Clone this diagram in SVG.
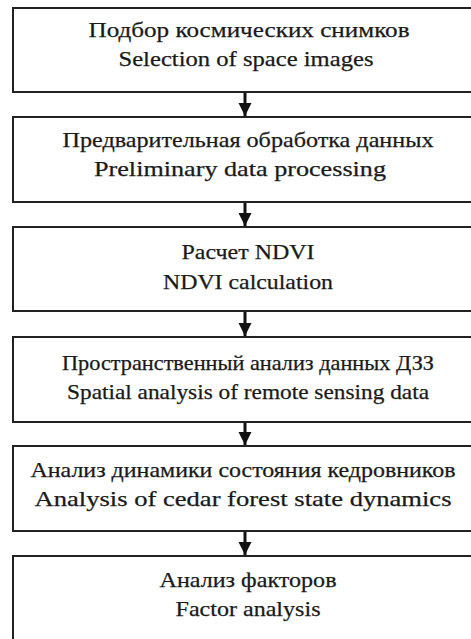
<svg xmlns="http://www.w3.org/2000/svg" width="471" height="639" viewBox="0 0 471 639">
<style>
.box{fill:#fff;stroke:#222;stroke-width:2}
.t{font-family:'Liberation Serif','Times New Roman',serif;font-size:21px;fill:#1a1a1a;stroke:#1a1a1a;stroke-width:0.25;text-anchor:middle}
.c{stroke:#111;stroke-width:3;fill:none}
</style>
<defs>
<marker id="ah" viewBox="0 0 10 10" refX="10" refY="5" markerWidth="4.5" markerHeight="4.5" markerUnits="strokeWidth" orient="auto">
<path d="M0,0 L10,5 L0,10 Z" fill="#111"/>
</marker>
</defs>
<rect width="471" height="639" fill="#fff"/>
<g id="connectors">
<line class="c" x1="245" y1="93" x2="245" y2="116" marker-end="url(#ah)"/>
<line class="c" x1="245" y1="203" x2="245" y2="226" marker-end="url(#ah)"/>
<line class="c" x1="245" y1="312" x2="245" y2="336" marker-end="url(#ah)"/>
<line class="c" x1="245" y1="422" x2="245" y2="445" marker-end="url(#ah)"/>
<line class="c" x1="245" y1="532" x2="245" y2="555" marker-end="url(#ah)"/>
</g>
<g id="n1">
<rect class="box" x="13" y="8" width="476" height="84"/>
<text class="t" x="249" y="37" textLength="321" lengthAdjust="spacingAndGlyphs">Подбор космических снимков</text>
<text class="t" x="246" y="66" textLength="255" lengthAdjust="spacingAndGlyphs">Selection of space images</text>
</g>
<g id="n2">
<rect class="box" x="13" y="117" width="476" height="85"/>
<text class="t" x="248" y="147" textLength="371" lengthAdjust="spacingAndGlyphs">Предварительная обработка данных</text>
<text class="t" x="240" y="176" textLength="292" lengthAdjust="spacingAndGlyphs">Preliminary data processing</text>
</g>
<g id="n3">
<rect class="box" x="13" y="227" width="476" height="84"/>
<text class="t" x="248" y="259" textLength="133" lengthAdjust="spacingAndGlyphs">Расчет NDVI</text>
<text class="t" x="248" y="289" textLength="170" lengthAdjust="spacingAndGlyphs">NDVI calculation</text>
</g>
<g id="n4">
<rect class="box" x="13" y="337" width="476" height="85"/>
<text class="t" x="248" y="370" textLength="372" lengthAdjust="spacingAndGlyphs">Пространственный анализ данных ДЗЗ</text>
<text class="t" x="248" y="399" textLength="362" lengthAdjust="spacingAndGlyphs">Spatial analysis of remote sensing data</text>
</g>
<g id="n5">
<rect class="box" x="13" y="446" width="476" height="85"/>
<text class="t" x="243" y="477" textLength="425" lengthAdjust="spacingAndGlyphs">Анализ динамики состояния кедровников</text>
<text class="t" x="243" y="506" textLength="417" lengthAdjust="spacingAndGlyphs">Analysis of cedar forest state dynamics</text>
</g>
<g id="n6">
<rect class="box" x="13" y="556" width="476" height="90"/>
<text class="t" x="248" y="587" textLength="177" lengthAdjust="spacingAndGlyphs">Анализ факторов</text>
<text class="t" x="248" y="616" textLength="145" lengthAdjust="spacingAndGlyphs">Factor analysis</text>
</g>
</svg>
